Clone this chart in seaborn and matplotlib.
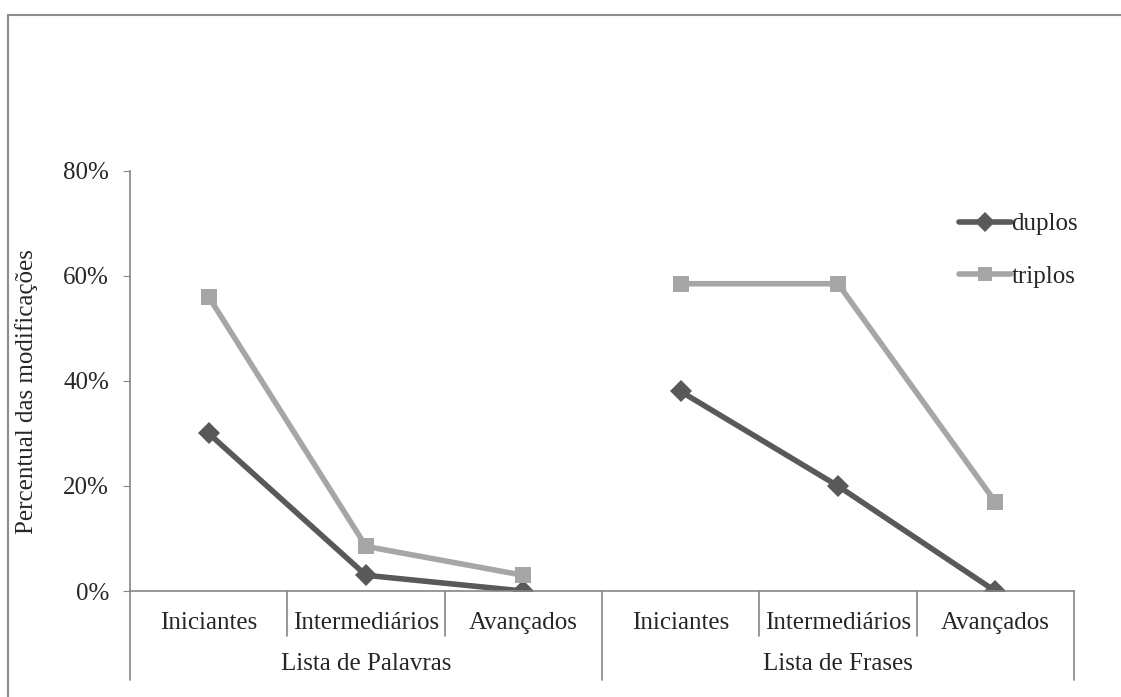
import pandas as pd
import seaborn as sns
import matplotlib.pyplot as plt
from matplotlib.patches import Rectangle
from matplotlib.ticker import PercentFormatter

grupos = ["Lista de Palavras", "Lista de Frases"]
niveis = ["Iniciantes", "Intermediários", "Avançados"]
series = ["duplos", "triplos"]
duplos = [0.30, 0.03, 0.00, 0.38, 0.20, 0.00]
triplos = [0.56, 0.085, 0.03, 0.585, 0.585, 0.17]

rows = []
for nome, vals in zip(series, [duplos, triplos]):
    for i, v in enumerate(vals):
        rows.append({"serie": nome, "grupo": grupos[i // 3], "nivel": niveis[i % 3],
                     "pos": i + 0.5, "valor": v})
df = pd.DataFrame(rows)

sns.set_style("white")
plt.rcParams["font.family"] = ["Liberation Serif", "DejaVu Serif"]
fs = 18

fig = plt.figure(figsize=(11.21, 6.97), dpi=100)
ax = fig.add_axes([0.116, 0.152, 0.842, 0.603])

sns.lineplot(data=df, x="pos", y="valor", hue="serie", style="serie", units="grupo",
             estimator=None, palette={"duplos": "#595959", "triplos": "#a6a6a6"},
             markers={"duplos": "D", "triplos": "s"}, dashes=False, linewidth=4,
             markersize=11, markeredgewidth=0, ax=ax)

ax.set_xlim(0, 6)
ax.set_ylim(0, 0.8)
ax.set_yticks([0, 0.2, 0.4, 0.6, 0.8])
ax.yaxis.set_major_formatter(PercentFormatter(1.0, decimals=0))
ax.tick_params(axis="y", left=True, length=5, color="#868686", labelsize=fs, pad=10)
ax.set_xticks([i + 0.5 for i in range(6)])
ax.set_xticklabels(niveis * 2)
ax.tick_params(axis="x", length=0, labelsize=fs, pad=15)

for s in ["top", "right"]:
    ax.spines[s].set_visible(False)
for s in ["left", "bottom"]:
    ax.spines[s].set_color("#868686")
    ax.spines[s].set_linewidth(1.2)

trans = ax.get_xaxis_transform()
for x in [1, 2, 4, 5]:
    ax.plot([x, x], [0, -0.107], color="#868686", lw=1.2, transform=trans, clip_on=False)
for x in [0, 3, 6]:
    ax.plot([x, x], [0, -0.212], color="#868686", lw=1.2, transform=trans, clip_on=False)
for j, g in enumerate(grupos):
    ax.text(1.5 + 3 * j, -0.173, g, transform=trans, ha="center", va="center", fontsize=fs)

ax.set_xlabel("")
ax.set_ylabel("Percentual das modificações", fontsize=fs)
ax.yaxis.set_label_coords(-0.097, 0.475)

ax.legend(title=None, frameon=False, loc="upper left", bbox_to_anchor=(0.878, 0.9),
          fontsize=fs, handlelength=2.1, handletextpad=0.0, labelspacing=1.2,
          borderaxespad=0, borderpad=0, markerscale=0.9)

fig.patches.append(Rectangle((8 / 1121, -0.1), 1.2, 1 - 15 / 697 + 0.1,
                             transform=fig.transFigure, fill=False,
                             edgecolor="#8c8c8c", lw=1.5))

fig.savefig("out.png", dpi=100)
